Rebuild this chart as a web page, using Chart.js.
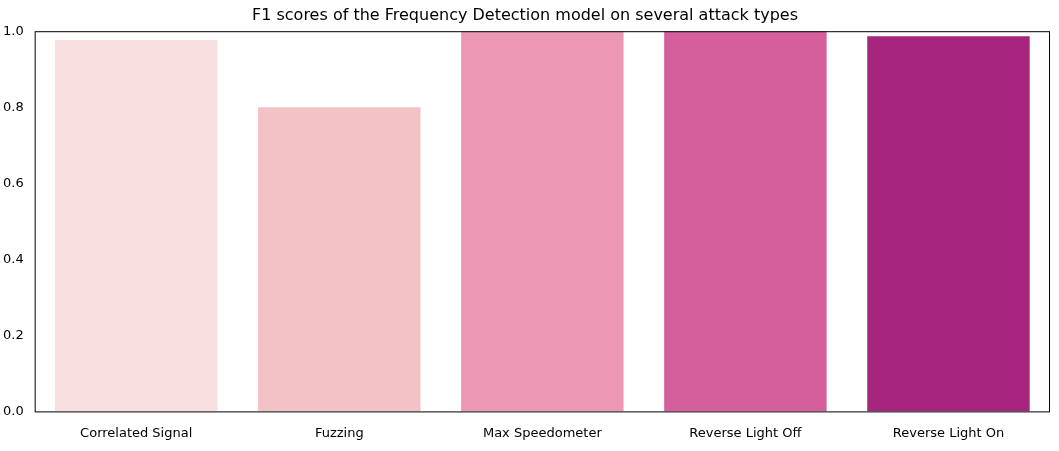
<!DOCTYPE html>
<html><head><meta charset="utf-8">
<script src="https://cdn.jsdelivr.net/npm/chart.js@4"></script>
<style>html,body{margin:0;padding:0;background:#fff}#w{position:relative;width:1059px;height:451px}</style>
</head><body><div id="w"><canvas id="c"></canvas></div>
<script>
const categories=["Correlated Signal","Fuzzing","Max Speedometer","Reverse Light Off","Reverse Light On"];
const f1Scores=[0.977,0.800,1.0,1.0,0.987];
const barColors=["#f7dfdf","#f2c2c6","#ec98b4","#d45f9c","#a6267e"];
const yTicks=[0,0.2,0.4,0.6,0.8,1.0];
const border={id:'b',afterDraw(c){const a=c.chartArea,x=c.ctx;x.save();x.strokeStyle='#000';x.lineWidth=1;x.strokeRect(a.left+0.5,a.top+0.5,a.width-1,a.height);x.restore();}};
new Chart(document.getElementById('c'),{type:'bar',
data:{labels:categories,datasets:[{data:f1Scores,backgroundColor:barColors,categoryPercentage:1,barPercentage:0.8}]},
options:{responsive:true,maintainAspectRatio:false,animation:false,
layout:{padding:{left:0,right:9,top:0,bottom:4}},
plugins:{legend:{display:false},tooltip:{enabled:false},
title:{display:true,text:"F1 scores of the Frequency Detection model on several attack types",color:'#000',font:{family:'DejaVu Sans',size:16,weight:'normal'},padding:{top:6,bottom:6}}},
scales:{x:{grid:{display:false},border:{display:false},ticks:{color:'#000',font:{family:'DejaVu Sans',size:13},padding:6}},
y:{min:0,max:1,afterBuildTicks(s){s.ticks=yTicks.map(v=>({value:v}));},grid:{display:false},border:{display:false},
ticks:{color:'#000',font:{family:'DejaVu Sans',size:13},callback:v=>Number(v).toFixed(1)}}}},
plugins:[border]});
</script></body></html>
